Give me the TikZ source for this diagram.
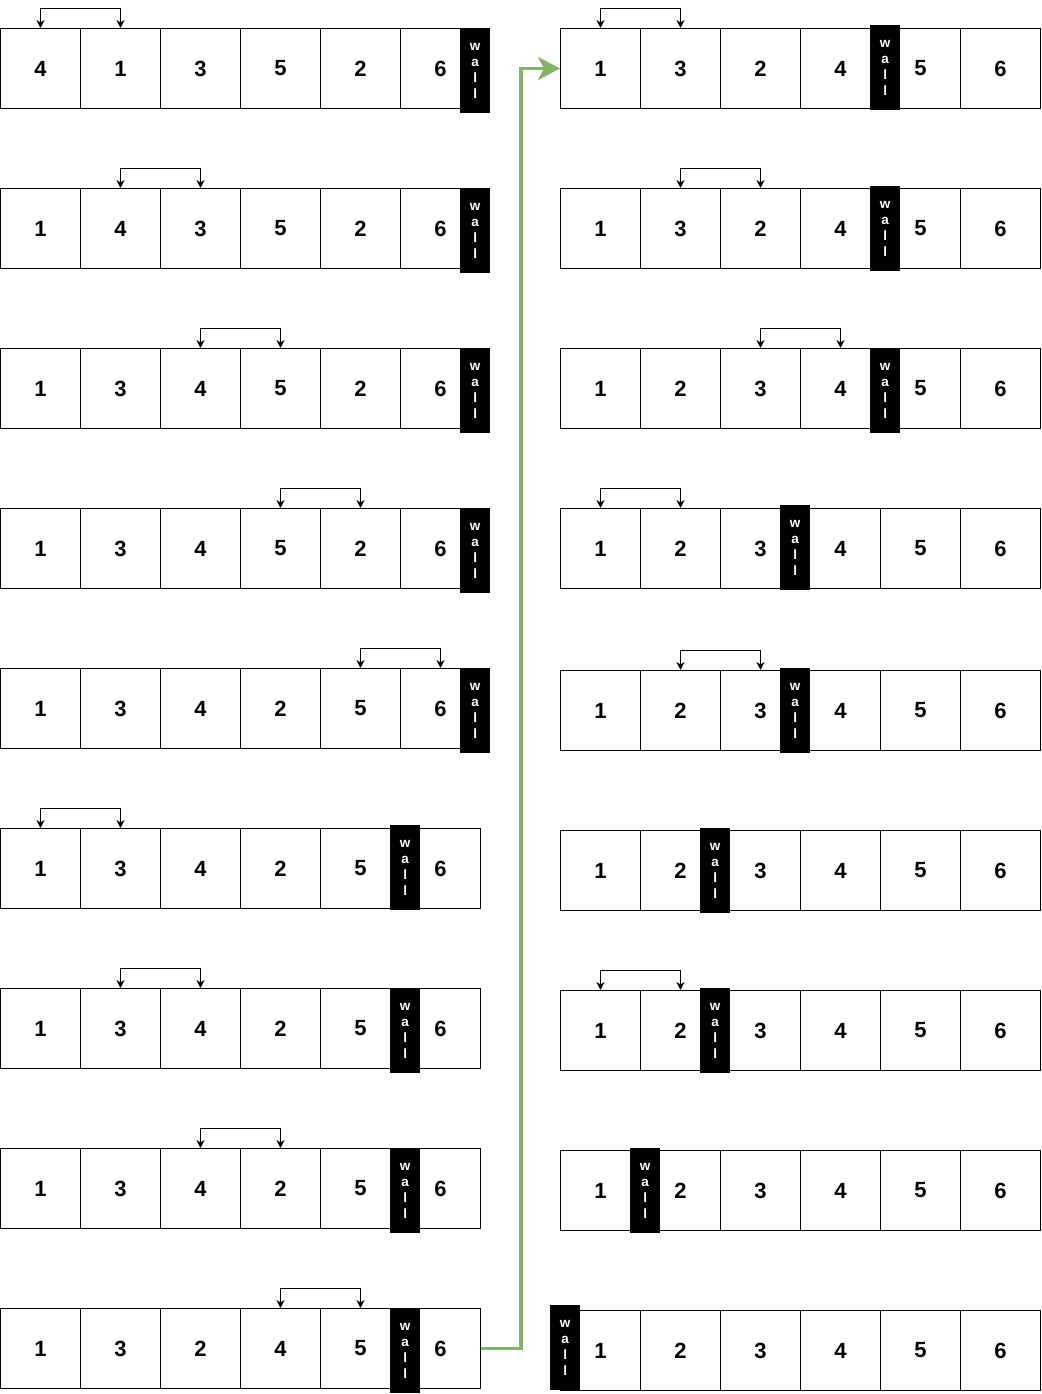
\documentclass[tikz,border=0pt]{standalone}
\usepackage{fontspec}
\setmainfont{Liberation Sans}
\usetikzlibrary{arrows.meta}
\definecolor{drawgreen}{HTML}{82B366}
\tikzset{
  cellbox/.style={draw=black, line width=1pt, minimum width=80pt, minimum height=80pt, inner sep=0pt, anchor=north west, font=\fontsize{22}{22}\selectfont\bfseries},
  wallbox/.style={fill=black, text=white, minimum width=30pt, minimum height=85pt, inner sep=0pt, anchor=north west, align=center, font=\fontsize{13.5}{16}\selectfont\bfseries},
  swaparrow/.style={line width=0.9pt, {Stealth[length=8pt,width=8pt]}-{Stealth[length=8pt,width=8pt]}},
  flowarrow/.style={draw=drawgreen, line width=3.5pt, -{Stealth[length=22pt,width=23pt,inset=6pt]}}
}
\begin{document}
\begin{tikzpicture}[x=1pt,y=-1pt]
\useasboundingbox (0,0) rectangle (1041,1394);
% left column
\foreach \r/\y/\vals/\wx/\wy/\sa/\sb in {
  1/28/{4,1,3,5,2,6}/460/28/0/1,
  2/188/{1,4,3,5,2,6}/460/188/1/2,
  3/348/{1,3,4,5,2,6}/460/348/2/3,
  4/508/{1,3,4,5,2,6}/460/508/3/4,
  5/668/{1,3,4,2,5,6}/460/668/4/5,
  6/828/{1,3,4,2,5,6}/390/825/0/1,
  7/988/{1,3,4,2,5,6}/390/988/1/2,
  8/1148/{1,3,4,2,5,6}/390/1148/2/3,
  9/1308/{1,3,2,4,5,6}/390/1308/3/4}{
  \foreach \v [count=\i from 0] in \vals {
    \node[cellbox] (L\r c\i) at (\i*80,\y) {\v};
  }
  \node[wallbox] (L\r w) at (\wx,\wy) {w\\a\\l\\l};
  \ifnum\sa>-1
    \draw[swaparrow] (L\r c\sa.north) -- ++(0,-20) -| (L\r c\sb.north);
  \fi
}
% right column
\foreach \r/\y/\vals/\wx/\wy/\sa/\sb in {
  1/28/{1,3,2,4,5,6}/870/25/0/1,
  2/188/{1,3,2,4,5,6}/870/186/1/2,
  3/348/{1,2,3,4,5,6}/870/348/2/3,
  4/508/{1,2,3,4,5,6}/780/505/0/1,
  5/670/{1,2,3,4,5,6}/780/668/1/2,
  6/830/{1,2,3,4,5,6}/700/828/-1/-1,
  7/990/{1,2,3,4,5,6}/700/988/0/1,
  8/1150/{1,2,3,4,5,6}/630/1148/-1/-1,
  9/1310/{1,2,3,4,5,6}/550/1305/-1/-1}{
  \foreach \v [count=\i from 0] in \vals {
    \node[cellbox] (R\r c\i) at (560+\i*80,\y) {\v};
  }
  \node[wallbox] (R\r w) at (\wx,\wy) {w\\a\\l\\l};
  \ifnum\sa>-1
    \draw[swaparrow] (R\r c\sa.north) -- ++(0,-20) -| (R\r c\sb.north);
  \fi
}
% flow arrow
\coordinate (bend) at ([xshift=40pt]L9c5.east);
\draw[flowarrow] (L9c5.east) -- (bend) |- (R1c0.west);
\end{tikzpicture}
\end{document}
